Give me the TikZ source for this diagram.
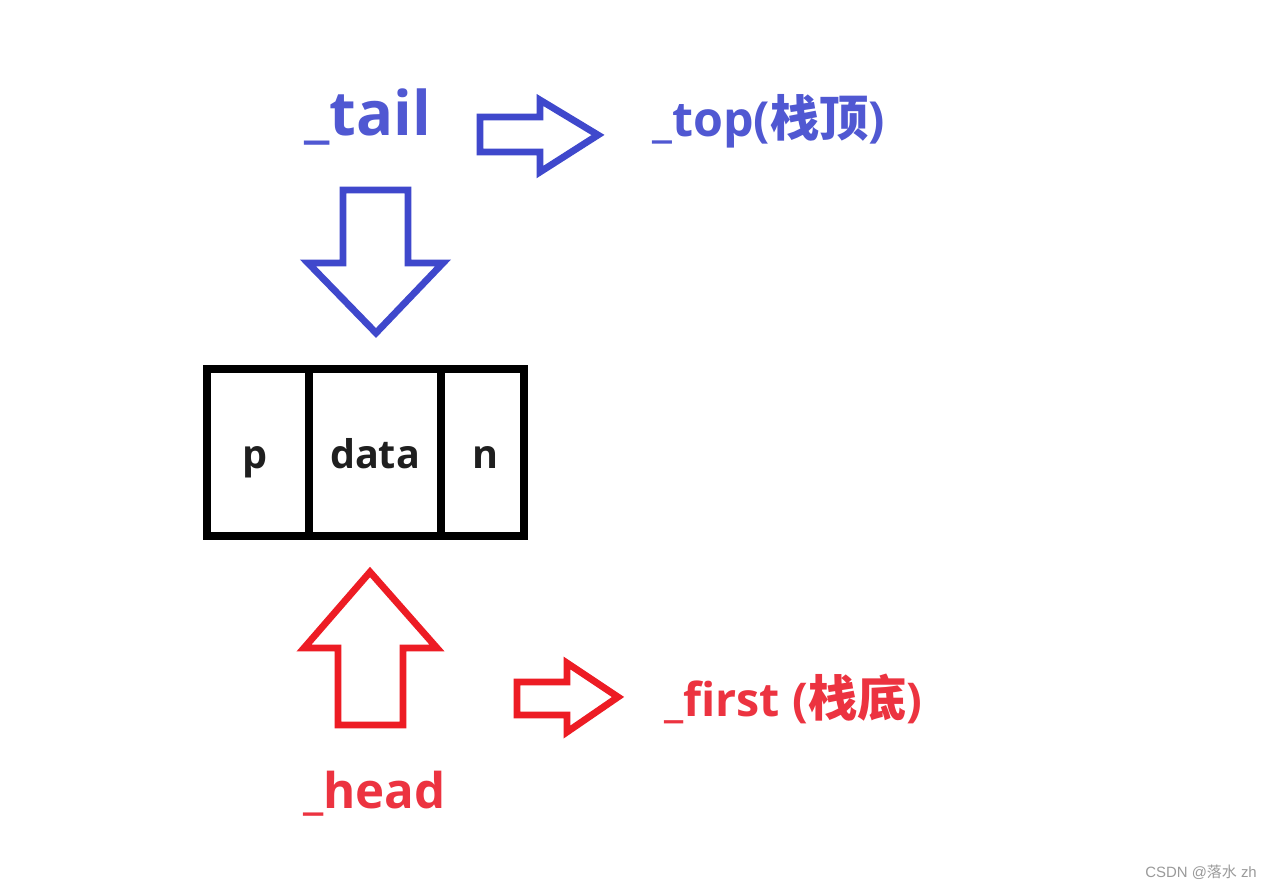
\documentclass[tikz,border=0pt]{standalone}
\usepackage{fontspec}
\setmainfont{Open Sans}
\newfontfamily\cjk{Noto Sans CJK SC}
\newfontfamily\wm{Liberation Sans}
\definecolor{arrowblue}{HTML}{3F48CC}
\definecolor{textblue}{HTML}{5058D2}
\definecolor{arrowred}{HTML}{ED1C24}
\definecolor{textred}{HTML}{EC3340}
\definecolor{wmgray}{HTML}{9A9A9A}
\newcommand{\cjkbig}[1]{{\cjk\bfseries\fontsize{28}{32}\selectfont #1}}
\tikzset{
  blockarrow/.style={line width=3.9pt, line join=miter},
  cellline/.style={line width=4.6pt, black},
  lbl/.style={inner sep=0pt, anchor=base west, font=\bfseries},
  celltext/.style={inner sep=0pt, anchor=base, font=\bfseries\fontsize{22.5}{26}\selectfont, text=black!88},
}
\begin{document}
\begin{tikzpicture}[x=0.02cm, y=-0.02cm]
\useasboundingbox (0,0) rectangle (1264,886);
\fill[white] (0,0) rectangle (1264,886);

% labels
\node[lbl, text=textblue, font=\bfseries\fontsize{35}{40}\selectfont] (tail) at (304,135) {\_tail};
\node[lbl, text=textblue, font=\bfseries\fontsize{27.5}{32}\selectfont] (top) at (652,136) {\_top(\cjkbig{栈顶})};
\node[lbl, text=textred, font=\bfseries\fontsize{26.5}{30}\selectfont] (first) at (664,716) {\_first (\cjkbig{栈底})};
\node[lbl, text=textred, font=\bfseries\fontsize{28}{32}\selectfont] (head) at (303,808) {\_head};

% blue right arrow
\draw[blockarrow, arrowblue] (480,117) -- (540,117) -- (540,100) -- (598,135) -- (540,172) -- (540,152) -- (480,152) -- cycle;
% blue down arrow
\draw[blockarrow, arrowblue] (343,190) -- (408,190) -- (408,263) -- (443,263) -- (376,333) -- (308,263) -- (343,263) -- cycle;

% node box
\draw[cellline] (207,369) rectangle (524,536);
\draw[cellline] (309,369) -- (309,536);
\draw[cellline] (441,369) -- (441,536);
\node[celltext] (p) at (255,468) {p};
\node[celltext] (data) at (375,468) {data};
\node[celltext] (n) at (485,468) {n};

% red up arrow
\draw[blockarrow, arrowred] (370,572) -- (437,648) -- (403,648) -- (403,725) -- (338,725) -- (338,648) -- (304,648) -- cycle;
% red right arrow
\draw[blockarrow, arrowred] (517,682) -- (567,682) -- (567,663) -- (618,697) -- (567,732) -- (567,715) -- (517,715) -- cycle;

% watermark
\node[inner sep=0pt, anchor=base west, text=wmgray, font=\wm\fontsize{8.5}{10}\selectfont] (wmark) at (1145,877) {CSDN @{\cjk 落水} zh};
\end{tikzpicture}
\end{document}
